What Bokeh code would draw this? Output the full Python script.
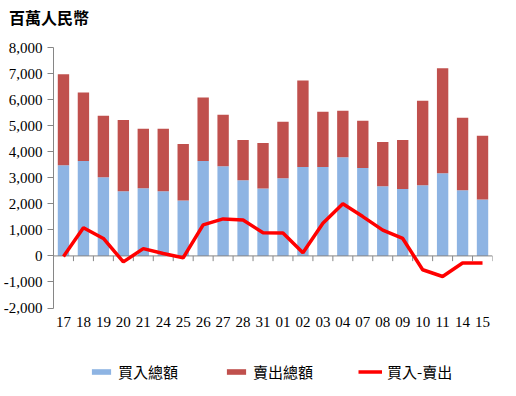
from bokeh.plotting import figure
from bokeh.layouts import column
from bokeh.models import Range1d, FixedTicker, Legend, LegendItem, NumeralTickFormatter, Div
from bokeh.core.properties import value
from bokeh.embed import file_html
from bokeh.resources import INLINE

title_text = "百萬人民幣"
dates = ["17", "18", "19", "20", "21", "24", "25", "26", "27", "28", "31",
         "01", "02", "03", "04", "07", "08", "09", "10", "11", "14", "15"]
buy = [3480, 3640, 3020, 2480, 2600, 2480, 2130, 3640, 3440, 2900, 2590,
       2980, 3410, 3410, 3790, 3370, 2670, 2570, 2710, 3170, 2520, 2170]
sell = [3490, 2630, 2360, 2740, 2280, 2400, 2170, 2440, 1980, 1550, 1740,
        2170, 3320, 2120, 1780, 1820, 1700, 1880, 3250, 4030, 2780, 2440]
net = [-20, 1080, 670, -230, 280, 90, -70, 1190, 1420, 1380, 890,
       880, 120, 1250, 2000, 1510, 990, 670, -530, -790, -270, -270]
y_ticks = [-2000, -1000, 0, 1000, 2000, 3000, 4000, 5000, 6000, 7000, 8000]
y_min, y_max = -2000, 8000

n = len(dates)
xs = list(range(n))

head = Div(text=title_text, width=500, height=27,
           styles={"font-family": "'Noto Sans CJK TC'", "font-size": "16px",
                   "font-weight": "bold", "color": "black", "line-height": "16px",
                   "padding-top": "4px", "padding-left": "4px", "box-sizing": "border-box"})

# frame extends below the value axis to host the date labels and the legend
p = figure(width=500, height=353, output_backend="svg", toolbar_location=None,
           x_range=Range1d(-0.5, n - 0.5), y_range=Range1d(-5166, y_max),
           x_axis_location=None,
           min_border_left=46, min_border_right=8, min_border_top=10, min_border_bottom=0)
p.outline_line_color = None
p.xgrid.visible = False
p.ygrid.visible = False

r_buy = p.vbar(x=xs, top=buy, bottom=0, width=0.57, color="#8EB4E3", line_color=None)
tops = [b + s for b, s in zip(buy, sell)]
r_sell = p.vbar(x=xs, top=tops, bottom=buy, width=0.57, color="#C0504D", line_color=None)

p.segment(x0=[-0.5], y0=[0], x1=[n - 0.5], y1=[0], line_color="#868686", line_width=1)
bounds = [i - 0.5 for i in range(n + 1)]
p.segment(x0=bounds, y0=[0] * len(bounds), x1=bounds, y1=[-200] * len(bounds),
          line_color="#868686", line_width=1)

r_net = p.line(xs, net, line_color="#FF0000", line_width=3.5)

# date labels under the value range
p.text(x=xs, y=[y_min] * n, text=dates, y_offset=9,
       text_align="center", text_baseline="top",
       text_font=value("Liberation Serif"), text_font_size="15px", text_color="black")

# y axis
p.yaxis.bounds = (y_min, y_max)
p.yaxis.ticker = FixedTicker(ticks=y_ticks)
p.yaxis.formatter = NumeralTickFormatter(format="0,0")
p.yaxis.axis_line_color = "#868686"
p.yaxis.major_tick_line_color = "#868686"
p.yaxis.major_tick_out = 6
p.yaxis.major_tick_in = 0
p.yaxis.minor_tick_line_color = None
p.yaxis.major_label_text_font = "Liberation Serif"
p.yaxis.major_label_text_font_size = "15px"
p.yaxis.major_label_text_color = "black"
p.yaxis.major_label_standoff = 5

legend_items = [("買入總額", r_buy, 32), ("賣出總額", r_sell, 167), ("買入-賣出", r_net, 301)]
for label, rend, lx in legend_items:
    lg = Legend(items=[LegendItem(label=label, renderers=[rend])],
                location=(lx, 4), glyph_width=24, glyph_height=7,
                label_standoff=5, border_line_alpha=0, background_fill_alpha=0,
                label_text_font="Noto Sans CJK TC", label_text_font_size="15px",
                label_text_color="black", margin=0, padding=4)
    p.add_layout(lg)

layout = column(head, p, spacing=0)
open("out.html", "w").write(file_html(layout, INLINE))
